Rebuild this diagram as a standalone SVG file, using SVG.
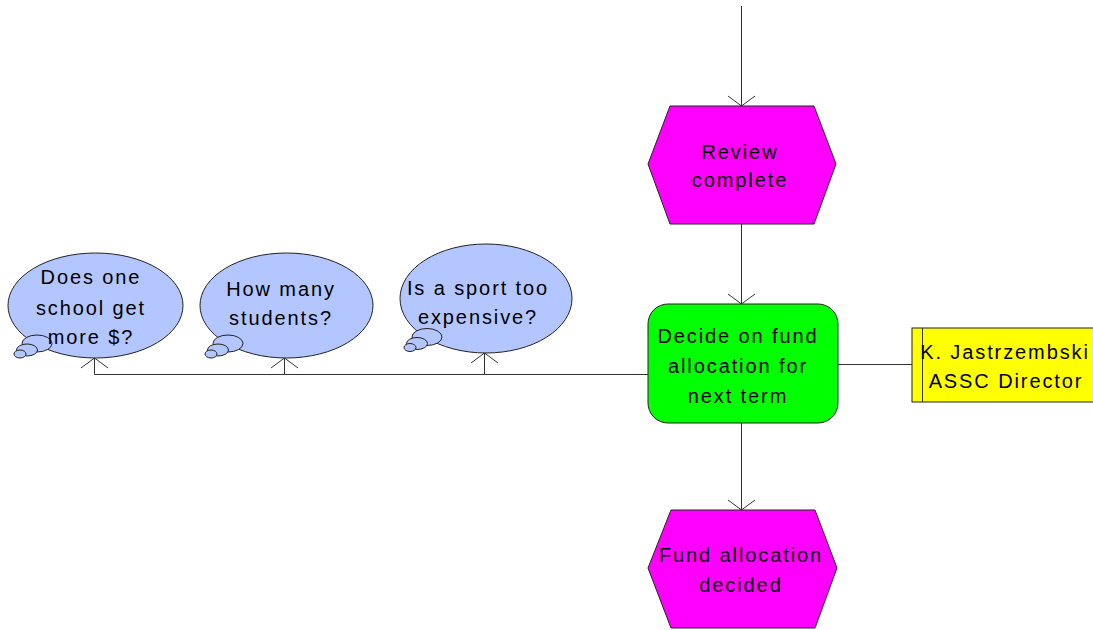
<svg xmlns="http://www.w3.org/2000/svg" width="1093" height="630" viewBox="0 0 1093 630">
  <style>
    .lbl { font-family: "Liberation Sans", Arial, sans-serif; font-size: 20px; fill: #000; letter-spacing: 1.9px; text-anchor: middle; }
    .edge { fill: none; stroke: #333; stroke-width: 1; }
    .event { fill: #FF00FF; stroke: #222; stroke-width: 1; }
    .func { fill: #00FF00; stroke: #222; stroke-width: 1; }
    .org { fill: #FFFF00; stroke: #222; stroke-width: 1; }
    .thought { fill: #B4C6FF; stroke: #222; stroke-width: 1; }
  </style>
  <defs>
    <marker id="open" markerUnits="userSpaceOnUse" markerWidth="30" markerHeight="30" refX="0" refY="0" viewBox="-15 -15 30 30" orient="auto" overflow="visible">
      <path d="M -10 -13.5 L 0 0 L -10 13.5" fill="none" stroke="#333" stroke-width="1"/>
    </marker>
  </defs>

  <rect width="1093" height="630" fill="#fff"/>

  <!-- connectors -->
  <g id="connectors">
    <line class="edge" x1="741.5" y1="6" x2="741.5" y2="106" marker-end="url(#open)"/>
    <line class="edge" x1="741.5" y1="224" x2="741.5" y2="304" marker-end="url(#open)"/>
    <line class="edge" x1="741.5" y1="423" x2="741.5" y2="510" marker-end="url(#open)"/>
    <line class="edge" x1="838" y1="364.5" x2="912" y2="364.5"/>
    <polyline class="edge" points="648,374.5 94.5,374.5"/>
    <line class="edge" x1="94.5" y1="374.5" x2="94.5" y2="358" marker-end="url(#open)"/>
    <line class="edge" x1="284.5" y1="374.5" x2="284.5" y2="358" marker-end="url(#open)"/>
    <line class="edge" x1="484.5" y1="374.5" x2="484.5" y2="353" marker-end="url(#open)"/>
  </g>

  <!-- event: review complete -->
  <g id="review-complete">
    <polygon class="event" points="670,106 814,106 836,164 814,224 670,224 648,164"/>
    <text class="lbl" x="740" y="159">Review</text>
    <text class="lbl" x="740" y="187">complete</text>
  </g>

  <!-- function: decide on fund allocation -->
  <g id="decide-fund">
    <rect class="func" x="648" y="304" width="190" height="119" rx="20" ry="20"/>
    <text class="lbl" x="738" y="343">Decide on fund</text>
    <text class="lbl" x="738" y="373">allocation for</text>
    <text class="lbl" x="738" y="403">next term</text>
  </g>

  <!-- organisational unit -->
  <g id="director">
    <rect class="org" x="912" y="328" width="185" height="74"/>
    <line class="edge" x1="922.5" y1="328" x2="922.5" y2="402"/>
    <text class="lbl" x="1005" y="359">K. Jastrzembski</text>
    <text class="lbl" x="1006" y="388">ASSC Director</text>
  </g>

  <!-- event: fund allocation decided -->
  <g id="fund-decided">
    <polygon class="event" points="671,510 815,510 837,568 815,628 671,628 648,568"/>
    <text class="lbl" x="741" y="562">Fund allocation</text>
    <text class="lbl" x="741" y="592">decided</text>
  </g>

  <!-- questions -->
  <g id="q-school">
    <ellipse class="thought" cx="95.5" cy="305.5" rx="87.5" ry="52.5"/>
    <ellipse class="thought" cx="37" cy="343.5" rx="15" ry="8.5"/>
    <ellipse class="thought" cx="27" cy="350" rx="10.5" ry="6"/>
    <ellipse class="thought" cx="20" cy="354" rx="6" ry="4"/>
    <text class="lbl" x="91" y="284">Does one</text>
    <text class="lbl" x="91" y="315">school get</text>
    <text class="lbl" x="91" y="344">more $?</text>
  </g>

  <g id="q-students">
    <ellipse class="thought" cx="286.5" cy="305.5" rx="86.5" ry="52.5"/>
    <ellipse class="thought" cx="228" cy="343.5" rx="15" ry="8.5"/>
    <ellipse class="thought" cx="218" cy="350" rx="10.5" ry="6"/>
    <ellipse class="thought" cx="211" cy="354" rx="6" ry="4"/>
    <text class="lbl" x="281" y="296">How many</text>
    <text class="lbl" x="281" y="325">students?</text>
  </g>

  <g id="q-sport">
    <ellipse class="thought" cx="486" cy="298.5" rx="86" ry="54.5"/>
    <ellipse class="thought" cx="427" cy="337" rx="15" ry="8.5"/>
    <ellipse class="thought" cx="417" cy="343.5" rx="10.5" ry="6"/>
    <ellipse class="thought" cx="410" cy="347.5" rx="6" ry="4"/>
    <text class="lbl" x="478" y="295">Is a sport too</text>
    <text class="lbl" x="478" y="324">expensive?</text>
  </g>
</svg>
